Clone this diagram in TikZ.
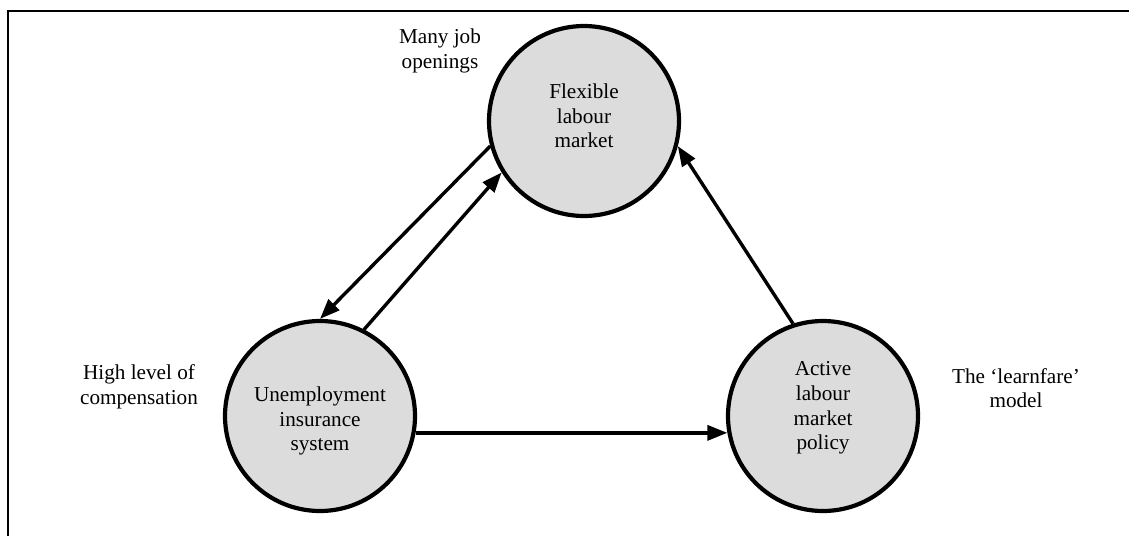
\documentclass[tikz,border=0pt]{standalone}
\usepackage{fontspec}
\setmainfont{Liberation Serif}
\usetikzlibrary{arrows.meta}
\definecolor{circfill}{HTML}{DCDCDC}
\tikzset{
  bubble/.style={circle, draw=black, line width=2.1pt, fill=circfill, minimum size=95pt, inner sep=0pt},
  txt/.style={align=center, inner sep=0pt, font=\fontsize{10.6}{12.3}\selectfont},
  link/.style={line width=1.7pt, -{Triangle[length=10pt,width=7.5pt]}},
  frame/.style={line width=1pt}
}
\begin{document}
\begin{tikzpicture}[x=0.5pt, y=-0.5pt]
\useasboundingbox (0,0) rectangle (1129,536);
\draw[frame] (8,536) -- (8,11) -- (1129,11);

\node[bubble] (flex) at (584,121) {};
\node[bubble] (unemp) at (320,416) {};
\node[bubble] (alm) at (823,416) {};

\node[txt] (flexT) at (584,116) {Flexible\\labour\\market};
\node[txt] (unempT) at (320,421) {Unemployment\\insurance\\system};
\node[txt] (almT) at (823,408) {Active\\labour\\market\\policy};

\node[txt] (l1) at (440,51) {Many job\\openings};
\node[txt] (l2) at (139,387) {High level of\\compensation};
\node[txt] (l3) at (1016,388) {The ‘learnfare’\\model};

\draw[link] (flex.195) -- (unemp.90);
\draw[link] (unemp.63.7) -- (flex.212);
\draw[link] (unemp.-10.6) -- (alm.190.6);
\draw[link] (alm.108.8) -- (flex.345);
\end{tikzpicture}
\end{document}
